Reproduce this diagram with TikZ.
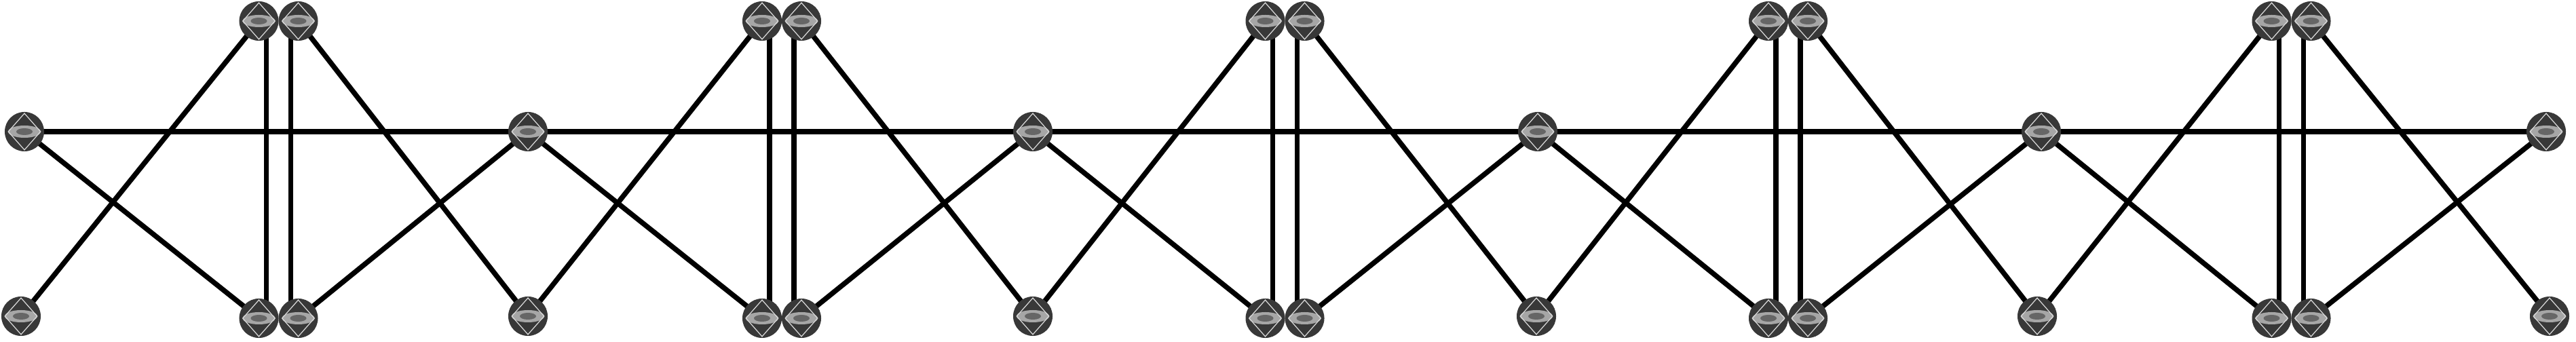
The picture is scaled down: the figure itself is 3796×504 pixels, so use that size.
\documentclass[tikz,border=0pt]{standalone}
\usetikzlibrary{backgrounds}
\begin{document}
\begin{tikzpicture}[x=0.01cm,y=-0.01cm,
  ball/.style={circle, minimum size=0.58cm, inner sep=0pt, fill=black!78,
    path picture={
      \fill[black!35] (path picture bounding box.center) ellipse (0.24cm and 0.09cm);
      \fill[black!60] (path picture bounding box.center) ellipse (0.12cm and 0.05cm);
      \draw[white!85!black, line width=0.35pt]
        ([yshift=-0.6pt]path picture bounding box.north) --
        ([xshift=-1.5pt]path picture bounding box.east) --
        ([yshift=0.6pt]path picture bounding box.south) --
        ([xshift=1.5pt]path picture bounding box.west) -- cycle;
    }},
  link/.style={line width=0.075cm, black}]
\useasboundingbox (0,0) rectangle (3796,504);
\foreach \i/\x in {0/36,1/778,2/1522,3/2266,4/3008,5/3752}
  \node[ball] (M\i) at (\x,194) {};
\foreach \i/\x in {0/31,1/778,2/1522,3/2264,4/3002,5/3757}
  \node[ball] (L\i) at (\x,466) {};
\foreach \i/\x in {0/410.5,1/1152,2/1893.5,3/2635,4/3376.5} {
  \node[ball] (Ta\i) at (\x-29,31) {};
  \node[ball] (Tb\i) at (\x+29,31) {};
  \node[ball] (Ba\i) at (\x-29,469) {};
  \node[ball] (Bb\i) at (\x+29,469) {};
}
\begin{scope}[on background layer]
\foreach \i [count=\j from 1] in {0,...,4} {
  \draw[link] (M\i.center) -- (M\j.center);
  \draw[link] (M\i.center) -- (Ba\i.center);
  \draw[link] (L\i.center) -- (Ta\i.center);
  \draw[link] ([xshift=0.11cm]Ta\i.center) -- ([xshift=0.11cm]Ba\i.center);
  \draw[link] ([xshift=-0.11cm]Tb\i.center) -- ([xshift=-0.11cm]Bb\i.center);
  \draw[link] (Tb\i.center) -- (L\j.center);
  \draw[link] (Bb\i.center) -- (M\j.center);
}
\end{scope}
\end{tikzpicture}
\end{document}
